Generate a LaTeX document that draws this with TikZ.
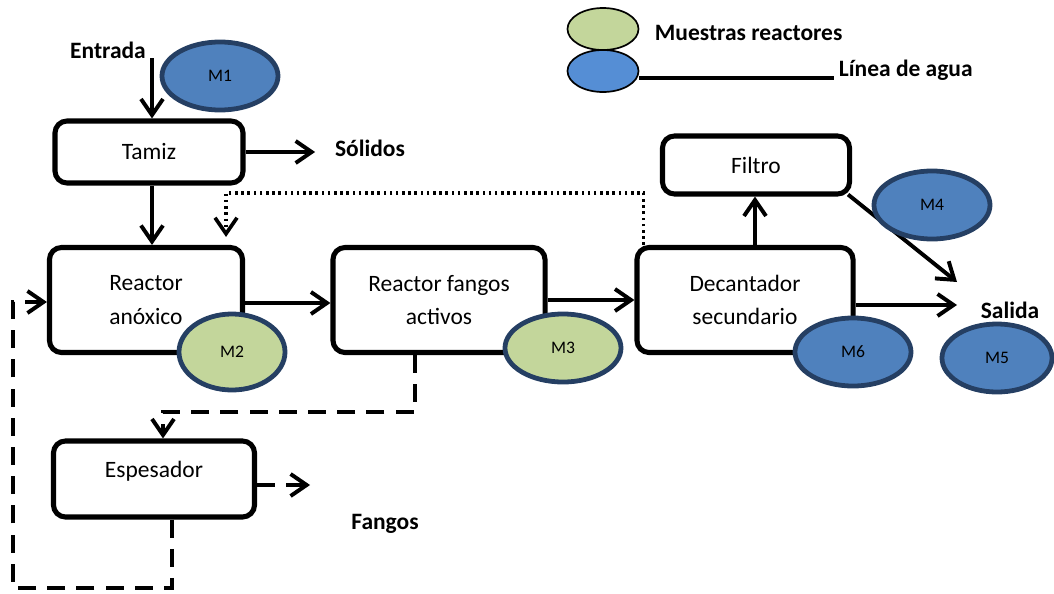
\documentclass[tikz,border=0pt]{standalone}
\usepackage{fontspec}
\setmainfont{Carlito}
\usetikzlibrary{arrows.meta,shapes.geometric,positioning}
\definecolor{sampgreen}{HTML}{C3D69B}
\definecolor{sampblue}{HTML}{4F81BD}
\definecolor{legblue}{HTML}{558ED5}
\definecolor{sampedge}{HTML}{253F63}

\begin{document}
\begin{tikzpicture}[x=0.025cm,y=-0.025cm,
  >={Straight Barb[length=0.4cm,width=0.55cm]},
  every node/.style={font=\fontsize{16.7}{24}\selectfont},
  box/.style={draw,line width=3.6pt,rounded corners=0.3cm,align=center,minimum height=2.625cm},
  tag/.style={font=\fontsize{16.7}{24}\selectfont\bfseries},
  flow/.style={->,line width=2.8pt},
  sludge/.style={->,line width=2.8pt,dash pattern=on 0.45cm off 0.28cm},
  recycle/.style={->,line width=2.6pt,dash pattern=on 1.8pt off 2.6pt},
  sample/.style={ellipse,draw=sampedge,line width=3.4pt,inner sep=0pt,
    minimum width=2.9cm,minimum height=1.7cm,font=\fontsize{12.5}{14}\selectfont},
  key/.style={ellipse,draw,line width=1.2pt,inner sep=0pt,minimum width=1.775cm,minimum height=1.05cm}]
  \useasboundingbox (0,0) rectangle (1054,593);

  % process units
  \node[box,minimum width=4.7cm,minimum height=1.55cm] (tamiz) at (149,152) {Tamiz};
  \node[box,minimum width=4.825cm] (anox) at (146,300) {Reactor\\anóxico};
  \node[box,minimum width=5.3cm] (fangos) at (439,300) {Reactor fangos\\activos};
  \node[box,minimum width=5.4cm] (decant) at (745,300) {Decantador\\secundario};
  \node[box,minimum width=4.675cm,minimum height=1.45cm] (filtro) at (756,165) {Filtro};
  \node[box,minimum width=5.025cm,minimum height=1.9cm,text depth=14pt] (espes) at (154,479) {Espesador};

  % labels
  \node[tag] (entrada) at (108,50) {Entrada};
  \node[tag] (solidos) at (370,148) {Sólidos};
  \node[tag] (salida) at (1010,310) {Salida};
  \node[tag] (fangosout) at (385,524) {Fangos};
  \node[tag,anchor=west] (muestras) at (650,33) {Muestras reactores};
  \node[tag,anchor=west] (linea) at (834,70) {Línea de agua};

  \coordinate (in) at (152,58);
  \coordinate (out) at (957,305);
  \coordinate (outf) at (957,282);
  \coordinate (ret) at (13,588);

  % water line
  \draw[flow] (in) -- (in |- tamiz.north);
  \draw[flow] (in |- tamiz.south) -- (in |- anox.north);
  \draw[flow] (tamiz.east) -- ([xshift=-0.375cm]tamiz.east -| solidos.west);
  \draw[flow] ([yshift=-0.075cm]anox.east) -- ([yshift=-0.075cm]fangos.west);
  \draw[flow] (fangos.east) -- (decant.west);
  \draw[flow] (decant.east |- out) -- (out);
  \draw[flow] ([xshift=0.25cm]decant.north) -- ([xshift=0.25cm]decant.north |- filtro.south);
  \draw[flow] ([shift={(-0.1cm,0.05cm)}]filtro.south east) -- (outf);

  % sludge lines
  \draw[recycle] ([xshift=0.225cm]decant.north west) -- ++(0,-52) -| ([shift={(2cm,0.2cm)}]anox.north);
  \draw[sludge] ([xshift=-0.6cm]fangos.south) -- ++(0,57) -| ([xshift=0.225cm]espes.north);
  \draw[sludge] ([yshift=-0.15cm]espes.east) -- ++(53,0);
  \draw[sludge] ([xshift=0.45cm]espes.south) |- (ret) |- ([yshift=-0.05cm]anox.west);

  % samples
  \node[sample,fill=sampblue,minimum width=2.9cm] (m1) at (220,76) {M1};
  \node[sample,fill=sampgreen,minimum width=2.65cm,minimum height=1.9cm] (m2) at (232,352) {M2};
  \node[sample,fill=sampgreen] (m3) at (563,348) {M3};
  \node[sample,fill=sampblue] (m4) at (932,205) {M4};
  \node[sample,fill=sampblue,minimum width=2.75cm] (m5) at (997,358) {M5};
  \node[sample,fill=sampblue] (m6) at (853,352) {M6};

  % legend
  \draw[line width=2.6pt] (639,78) -- (linea.west |- 639,78);
  \node[key,fill=sampgreen] (keygreen) at (603,29) {};
  \node[key,fill=legblue] (keyblue) at (603,71) {};
\end{tikzpicture}
\end{document}
